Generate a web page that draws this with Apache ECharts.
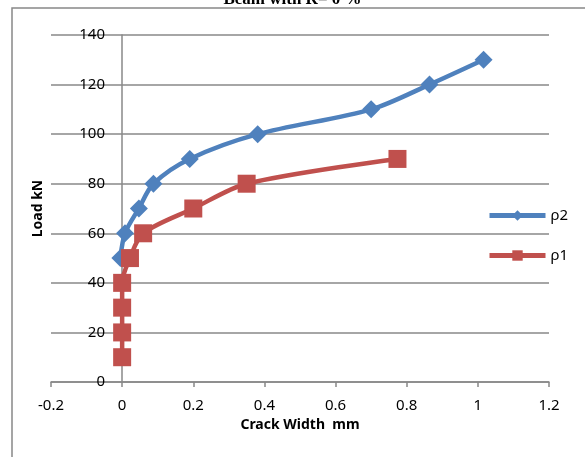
<!DOCTYPE html>
<html>
<head>
<meta charset="utf-8">
<script src="https://cdn.jsdelivr.net/npm/echarts@6/dist/echarts.min.js"></script>
<style>html,body{margin:0;padding:0;background:#fff}#c{width:585px;height:457px}</style>
</head>
<body>
<div id="c"></div>
<script>
const titleText = 'Beam with R= 0 %';
const xName = 'Crack Width  mm';
const yName = 'Load kN';
const rho2X = [-0.005, 0.008, 0.047, 0.088, 0.19, 0.381, 0.70, 0.864, 1.016];
const rho2Y = [50, 60, 70, 80, 90, 100, 110, 120, 130];
const rho1X = [0, 0, 0, 0, 0.022, 0.059, 0.20, 0.35, 0.774];
const rho1Y = [10, 20, 30, 40, 50, 60, 70, 80, 90];
const seriesNames = ['ρ2', 'ρ1'];

const pair = (xs, ys) => xs.map((x, i) => [x, ys[i]]);
const font = '"Noto Sans", "Open Sans", sans-serif';
const chart = echarts.init(document.getElementById('c'));
chart.setOption({
  animation: false,
  backgroundColor: '#fff',
  title: {
    text: titleText, left: 'center', top: -14,
    textStyle: {fontFamily: '"Liberation Serif", serif', fontWeight: 'bold', fontSize: 17, color: '#000'}
  },
  graphic: [
    {type: 'polyline', shape: {points: [[12, 460], [12, 8], [590, 8]]}, style: {stroke: '#888', lineWidth: 1.5, fill: null}, silent: true}
  ],
  grid: {left: 51, right: 36, top: 35, bottom: 75, containLabel: false, outerBoundsMode: 'none'},
  legend: {
    orient: 'vertical', left: 482, top: 203, itemWidth: 56, itemHeight: 13, itemGap: 25,
    lineStyle: {width: 5},
    textStyle: {fontFamily: font, fontSize: 15, color: '#000'},
    data: seriesNames
  },
  xAxis: {
    type: 'value', min: -0.2, max: 1.2, interval: 0.2,
    name: xName, nameLocation: 'middle', nameGap: 33,
    nameTextStyle: {fontFamily: font, fontWeight: 'bold', fontSize: 14, color: '#000'},
    axisLine: {show: true, lineStyle: {color: '#888', width: 1.5}},
    axisTick: {show: true, length: 5, lineStyle: {color: '#888', width: 1.5}},
    axisLabel: {fontFamily: font, fontSize: 15, color: '#000', margin: 16},
    splitLine: {show: false}
  },
  yAxis: {
    type: 'value', min: 0, max: 140, interval: 20,
    name: yName, nameLocation: 'middle', nameGap: 6,
    nameTextStyle: {fontFamily: font, fontWeight: 'bold', fontSize: 14, color: '#000'},
    axisLine: {show: true, onZero: true, lineStyle: {color: '#888', width: 1.5}},
    axisTick: {show: false},
    axisLabel: {fontFamily: font, fontSize: 15, color: '#000', margin: -54},
    splitLine: {show: true, lineStyle: {color: '#888', width: 1.5}}
  },
  series: [
    {
      name: seriesNames[0], type: 'line', smooth: 0.3, data: pair(rho2X, rho2Y),
      symbol: 'diamond', symbolSize: 18,
      lineStyle: {color: '#4F81BD', width: 4.5}, itemStyle: {color: '#4F81BD'}
    },
    {
      name: seriesNames[1], type: 'line', smooth: 0.3, data: pair(rho1X, rho1Y),
      symbol: 'rect', symbolSize: 18,
      lineStyle: {color: '#C0504D', width: 4.5}, itemStyle: {color: '#C0504D'}
    }
  ]
});
</script>
</body>
</html>
